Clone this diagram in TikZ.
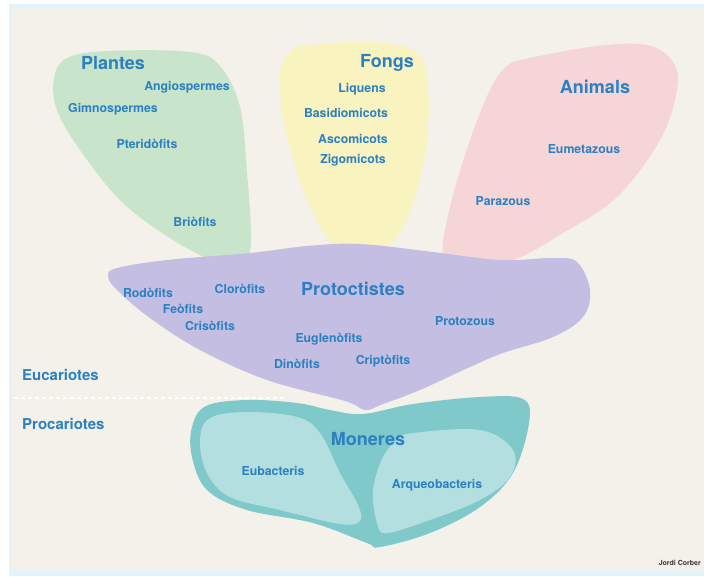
\documentclass[tikz,border=0pt]{standalone}
\usepackage{fontspec}
\setmainfont{TeX Gyre Heros}
\definecolor{bgcream}{RGB}{243,241,233}
\definecolor{framebl}{RGB}{228,242,249}
\definecolor{plantgreen}{RGB}{200,228,202}
\definecolor{fongyellow}{RGB}{249,243,192}
\definecolor{animpink}{RGB}{245,213,214}
\definecolor{protpurple}{RGB}{196,191,226}
\definecolor{monteal}{RGB}{128,201,203}
\definecolor{monlight}{RGB}{180,223,224}
\definecolor{txtblue}{RGB}{42,128,192}
\tikzset{
  title/.style={text=txtblue, font=\bfseries\fontsize{18}{20}\selectfont, inner sep=0pt},
  sublabel/.style={text=txtblue, font=\bfseries\fontsize{12.3}{14}\selectfont, inner sep=0pt},
  sidelabel/.style={text=txtblue, font=\bfseries\fontsize{15}{17}\selectfont, inner sep=0pt, anchor=west},
  divider/.style={white, dashed, dash pattern=on 4pt off 3pt, line width=1.2pt}
}
\begin{document}
\begin{tikzpicture}[x=1pt,y=-1pt]
\useasboundingbox (0,0) rectangle (704,576);
\fill[white] (0,0) rectangle (704,576);
\fill[framebl] (9,4) rectangle (704,576);
\fill[bgcream] (12,8) rectangle (704,570);
% Plantes
\fill[plantgreen] plot[smooth cycle, tension=0.6] coordinates {(67,58) (107,51) (190,52) (220,66) (240,107) (247,173) (251,235) (246,260) (225,265) (178,243) (123,203) (80,150) (57,110) (54,78)};
% Fongs
\fill[fongyellow] plot[smooth cycle, tension=0.6] coordinates {(290,52) (303,46) (370,42) (417,53) (428,90) (427,140) (417,190) (403,227) (380,253) (353,258) (330,242) (303,190) (284,123) (280,73)};
% Animals
\fill[animpink] plot[smooth cycle, tension=0.6] coordinates {(507,66) (530,58) (597,46) (647,45) (673,62) (677,90) (660,140) (617,197) (563,233) (513,260) (463,267) (443,256) (450,207) (470,140) (490,90)};
% Moneres
\fill[monteal] plot[smooth cycle, tension=0.6] coordinates {(206,406) (247,400) (297,403) (330,410) (363,414) (413,404) (480,397) (523,399) (529,423) (513,473) (480,507) (430,533) (380,547) (367,543) (313,523) (247,510) (207,490) (192,457) (192,427)};
\fill[monlight] plot[smooth cycle, tension=0.6] coordinates {(210,418) (247,412) (297,417) (320,433) (340,473) (358,505) (360,521) (340,524) (280,510) (230,497) (207,473) (200,440)};
\fill[monlight] plot[smooth cycle, tension=0.6] coordinates {(397,440) (413,433) (480,430) (513,450) (510,477) (480,500) (430,520) (387,533) (377,523) (373,490) (383,457)};
% Protoctistes
\fill[protpurple] plot[smooth cycle, tension=0.6] coordinates {(117,268) (167,260) (250,253) (307,246) (360,244) (433,252) (500,260) (553,258) (577,262) (590,290) (583,317) (553,337) (503,353) (470,367) (420,390) (383,404) (365,410) (345,401) (267,380) (200,350) (150,318) (117,290) (108,276)};
% divider
\coordinate (divL) at (14,398);
\coordinate (divR) at (287,398);
\draw[divider] (divL) -- (divR);
% texts
\node[title] (plantes) at (113,63) {Plantes};
\node[sublabel] (angio) at (187,87) {Angiospermes};
\node[sublabel] (gimno) at (113,109) {Gimnospermes};
\node[sublabel] (pteri) at (147,144) {Pteridòfits};
\node[sublabel] (brio) at (195,222) {Briòfits};
\node[title] (fongs) at (387,63) {Fongs};
\node[sublabel] (liq) at (362,89) {Liquens};
\node[sublabel] (basid) at (346,113) {Basidiomicots};
\node[sublabel] (ascom) at (353,139) {Ascomicots};
\node[sublabel] (zigo) at (353,160) {Zigomicots};
\node[title] (animals) at (595,87) {Animals};
\node[sublabel] (eumet) at (584,149) {Eumetazous};
\node[sublabel] (paraz) at (503,201) {Parazous};
\node[title] (protoc) at (353,289) {Protoctistes};
\node[sublabel] (rodo) at (148,293) {Rodòfits};
\node[sublabel] (cloro) at (240,289) {Cloròfits};
\node[sublabel] (feo) at (183,309) {Feòfits};
\node[sublabel] (criso) at (210,326) {Crisòfits};
\node[sublabel] (eugle) at (329,339) {Euglenòfits};
\node[sublabel] (dino) at (297,364) {Dinòfits};
\node[sublabel] (cripto) at (383,361) {Criptòfits};
\node[sublabel] (protoz) at (465,321) {Protozous};
\node[title] (moneres) at (368,439) {Moneres};
\node[sublabel] (eubac) at (273,471) {Eubacteris};
\node[sublabel] (arqueo) at (437,485) {Arqueobacteris};
\node[sidelabel] (eucar) at (22,375) {Eucariotes};
\node[sidelabel] (procar) at (22,424) {Procariotes};
\node[anchor=east, inner sep=0pt, font=\bfseries\fontsize{7}{8}\selectfont, text=black!80] (author) at (701,563) {Jordi Corber};
\end{tikzpicture}
\end{document}
